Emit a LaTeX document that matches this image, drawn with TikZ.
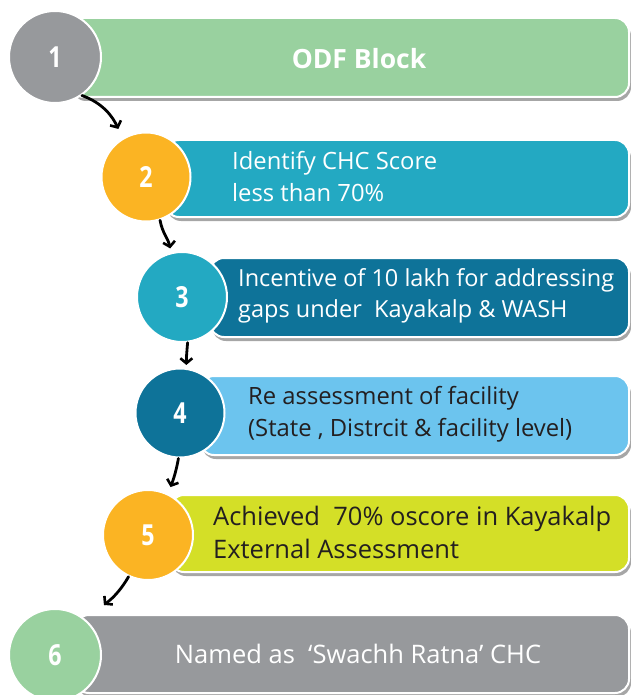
\documentclass[tikz,border=0pt]{standalone}
\usepackage{fontspec}
\setmainfont{Open Sans}
\newfontfamily\numfont[FakeStretch=0.8]{Open Sans}
\usetikzlibrary{arrows.meta,shadows}
\definecolor{cgray}{HTML}{97999C}
\definecolor{cgreen}{HTML}{99D19F}
\definecolor{corange}{HTML}{FBB423}
\definecolor{cteal}{HTML}{23A9C2}
\definecolor{cdteal}{HTML}{0E7399}
\definecolor{clblue}{HTML}{6CC4EE}
\definecolor{clime}{HTML}{D4DF27}
\definecolor{cdark}{HTML}{231F20}
\tikzset{
  bar/.style={rectangle, draw=white, line width=2pt, rounded corners=14pt,
    drop shadow={shadow xshift=2pt, shadow yshift=-4pt, opacity=0.35, fill=black}},
  numcircle/.style={circle, draw=white, line width=2pt, minimum size=90pt, inner sep=0pt,
    text=white, font=\numfont\bfseries\fontsize{29}{32}\selectfont},
  bartext/.style={anchor=west, align=left, inner sep=0pt},
  flow/.style={-{Straight Barb[length=5pt,width=12pt,line width=2.6pt]}, line width=2.8pt, line cap=round, black}
}
\begin{document}
\begin{tikzpicture}[x=1pt,y=-1pt]
\useasboundingbox (0,0) rectangle (630,695);
% bars
\node[bar, fill=cgreen, minimum width=559pt, minimum height=79pt] (b1) at (349.5,57.5) {};
\node[bar, fill=cteal, minimum width=464pt, minimum height=77pt] (b2) at (397,178.5) {};
\node[bar, fill=cdteal, minimum width=419pt, minimum height=79pt] (b3) at (419.5,297.5) {};
\node[bar, fill=clblue, minimum width=429pt, minimum height=79pt] (b4) at (414.5,415.5) {};
\node[bar, fill=clime, minimum width=459pt, minimum height=77pt] (b5) at (399.5,533.5) {};
\node[bar, fill=cgray, minimum width=554pt, minimum height=78pt] (b6) at (352,654) {};
% texts
\node[inner sep=0pt, text=white, font=\bfseries\fontsize{26.5}{30}\selectfont] (t1) at (359,59) {ODF Block};
\node[bartext, text=white, font=\fontsize{23.8}{32}\selectfont] (t2) at (232,177) {Identify CHC Score\\less than 70\%};
\node[bartext, text=white, font=\fontsize{23.5}{31.5}\selectfont] (t3) at (238,296) {Incentive of 10 lakh for addressing\\gaps under\ \ Kayakalp \& WASH};
\node[bartext, text=cdark, font=\fontsize{23.8}{32}\selectfont] (t4) at (248,414) {Re assessment of facility\\(State , Distrcit \& facility level)};
\node[bartext, text=cdark, font=\fontsize{25.5}{33}\selectfont] (t5) at (213,532) {Achieved\ \ 70\% oscore in Kayakalp\\External Assessment};
\node[inner sep=0pt, text=white, font=\fontsize{25.5}{30}\selectfont] (t6) at (358,654) {Named as\ \ ‘Swachh Ratna’ CHC};
% circles
\node[numcircle, fill=cgray, minimum size=92pt] (c1) at (55,57) {1};
\node[numcircle, fill=corange, minimum size=89pt] (c2) at (146,177) {2};
\node[numcircle, fill=cteal] (c3) at (182,297) {3};
\node[numcircle, fill=cdteal, minimum size=89pt] (c4) at (180,413) {4};
\node[numcircle, fill=corange] (c5) at (148,535) {5};
\node[numcircle, fill=cgreen, minimum size=92pt] (c6) at (55,655) {6};
% arrows
\draw[flow, shorten >=10pt] (c1.-55) to[out=-20, in=115] (c2.121);
\draw[flow, shorten >=4pt] (c2.-72) to[out=-80, in=100] (c3.104);
\draw[flow, shorten >=3pt] (c3.-83) to[out=-95, in=90] (c4.82);
\draw[flow, shorten >=7pt] (c4.-92) to[out=-100, in=70] (c5.64);
\draw[flow, shorten >=23pt] (c5.-115) to[out=-120, in=45] (c6.46);
\end{tikzpicture}
\end{document}
